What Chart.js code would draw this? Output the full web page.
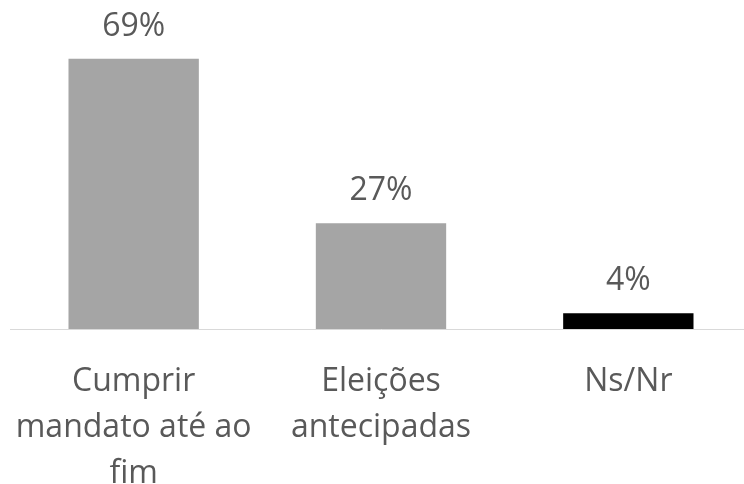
<!DOCTYPE html>
<html>
<head>
<meta charset="utf-8">
<script src="https://cdn.jsdelivr.net/npm/chart.js@4/dist/chart.umd.min.js"></script>
<style>
  html, body { margin: 0; padding: 0; background: #fff; overflow: hidden; }
  #wrap { width: 744px; height: 484px; overflow: hidden; position: relative; }
  canvas { position: absolute; left: 0; top: 0; }
</style>
</head>
<body>
<div id="wrap"><canvas id="chart" width="752" height="497"></canvas></div>
<script>
const categories = [["Cumprir", "mandato até ao", "fim"], ["Eleições", "antecipadas"], ["Ns/Nr"]];
const values = [69, 27, 4];
const valueLabels = ["69%", "27%", "4%"];
const barColors = ["#a5a5a5", "#a5a5a5", "#000000"];

const textColor = "#595959";
const fontFamily = "'Open Sans', sans-serif";

// draws the % labels above each bar
const valueLabelPlugin = {
  id: "valueLabels",
  afterDatasetsDraw(chart) {
    const ctx = chart.ctx;
    const meta = chart.getDatasetMeta(0);
    ctx.save();
    ctx.font = "32px " + fontFamily;
    ctx.fillStyle = textColor;
    ctx.textAlign = "center";
    ctx.textBaseline = "alphabetic";
    meta.data.forEach((bar, i) => {
      ctx.fillText(valueLabels[i], bar.x, bar.y - 23);
    });
    ctx.restore();
  }
};

const ctx = document.getElementById("chart").getContext("2d");
new Chart(ctx, {
  type: "bar",
  data: {
    labels: categories,
    datasets: [
      {
        data: values,
        backgroundColor: barColors,
        borderWidth: 0,
        barPercentage: 0.527,
        categoryPercentage: 1,
      },
    ],
  },
  options: {
    responsive: false,
    animation: false,
    layout: { padding: { left: 10, right: 0, top: 0, bottom: 0 } },
    plugins: {
      legend: { display: false },
      tooltip: { enabled: false },
    },
    scales: {
      x: {
        grid: { display: false, drawTicks: false },
        border: { display: true, color: "#d9d9d9", width: 1 },
        ticks: {
          color: textColor,
          padding: 30,
          maxRotation: 0,
          autoSkip: false,
          font: { family: fontFamily, size: 32, lineHeight: "46px" },
        },
        afterFit(scale) {
          scale.height = 168;
          scale.paddingLeft = 0;
          scale.paddingRight = 0;
        },
      },
      y: {
        display: false,
        min: 0,
        max: 84,
      },
    },
  },
  plugins: [valueLabelPlugin],
});
</script>
</body>
</html>
